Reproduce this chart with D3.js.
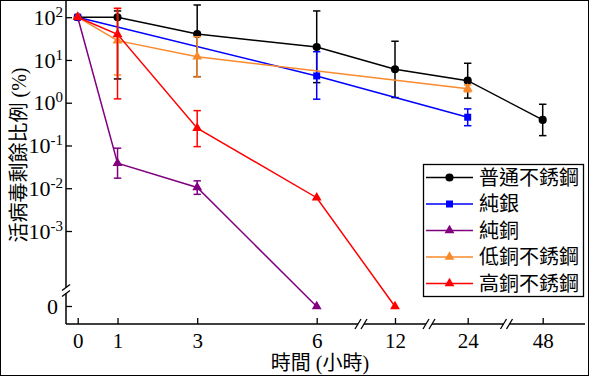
<!DOCTYPE html>
<html>
<head>
<meta charset="utf-8">
<script src="https://cdn.jsdelivr.net/npm/d3@7"></script>
<style>
  body { margin: 0; background: #fff; }
  svg { display: block; }
  text { font-family: "Liberation Serif", "Noto Sans CJK TC", serif; fill: #000; }
</style>
</head>
<body>
<div id="chart"></div>
<script>
// Sample data
const hours = [0, 1, 3, 6, 12, 24, 48];
const seriesNames = ['普通不銹鋼', '純銀', '純銅', '低銅不銹鋼', '高銅不銹鋼'];
const seriesColors = ['#000000', '#0000ff', '#800080', '#f98a2c', '#ff0000'];
const seriesShapes = ['circle', 'square', 'triangle', 'triangle', 'triangle'];

const steelT = [0, 1, 3, 6, 12, 24, 48];
const steelV = [100, 100, 40.5, 20.1, 6.06, 3.28, 0.397];
const steelLo = [null, 3.6, 4.07, 2.95, 1.32, 1.28, 0.17];
const steelHi = [null, 140, 193, 140, 27.4, 8.37, 0.92];

const silverT = [0, 6, 24];
const silverV = [100, 4.23, 0.458];
const silverLo = [null, 1.21, 0.29];
const silverHi = [null, 15.6, 0.716];

const copperT = [0, 1, 3, 6];
const copperV = [100, 0.0386, 0.0104, 0];
const copperLo = [null, 0.0172, 0.0072, null];
const copperHi = [null, 0.0865, 0.0149, null];

const lowCuT = [0, 1, 3, 24];
const lowCuV = [100, 28.3, 11.9, 2.13];
const lowCuLo = [null, 4.46, 4.0, 1.8];
const lowCuHi = [null, 161, 35, 2.6];

const highCuT = [0, 1, 3, 6, 12];
const highCuV = [100, 39.8, 0.254, 0.006, 0];
const highCuLo = [null, 1.23, 0.094, null, null];
const highCuHi = [null, 161, 0.653, null, null];

const yTicks = [1e-3, 1e-2, 1e-1, 1, 10, 100];

const seriesT = [steelT, silverT, copperT, lowCuT, highCuT];
const seriesV = [steelV, silverV, copperV, lowCuV, highCuV];
const seriesLo = [steelLo, silverLo, copperLo, lowCuLo, highCuLo];
const seriesHi = [steelHi, silverHi, copperHi, lowCuHi, highCuHi];

// Chart dimensions
const width = 589;
const height = 376;
const axisX = 66;
const axisY = 324;
const axisRight = 585;
const yZero = 306.5;

const svg = d3.select('#chart').append('svg')
    .attr('width', width)
    .attr('height', height);

// outer frame
svg.append('rect')
    .attr('x', 0.5).attr('y', 0.5)
    .attr('width', width - 1).attr('height', height - 1)
    .attr('fill', '#fff').attr('stroke', '#000');

// x: broken time axis (linear to 6 h, then 12/24/48)
const xScale = d3.scaleLinear()
    .domain([0, 6, 12, 24, 48])
    .range([77.7, 316.7, 395, 467.7, 542.7]);

// y: log part plus a separate zero level under the break
const yScale = d3.scaleLog()
    .domain([1e-3, 1e2])
    .range([231, 17.2]);
const yPos = v => v === 0 ? yZero : yScale(v);

// x-axis
const xAxis = d3.axisBottom(xScale)
    .tickValues(hours)
    .tickSizeInner(-6)
    .tickSizeOuter(0)
    .tickPadding(9)
    .tickFormat(d3.format('d'));
const gx = svg.append('g')
    .attr('transform', `translate(0,${axisY})`)
    .call(xAxis);
gx.select('.domain').remove();
gx.selectAll('line').attr('stroke', '#000').attr('stroke-width', 1.3);
gx.selectAll('text').attr('font-size', 21).attr('font-family', 'Liberation Serif');

// x axis line with breaks
const xBreaks = [361, 429, 506.5];
const xSegs = [axisX].concat(xBreaks.flatMap(b => [b - 3, b + 3])).concat([axisRight]);
for (let i = 0; i < xSegs.length; i += 2) {
  svg.append('line')
      .attr('x1', xSegs[i]).attr('x2', xSegs[i + 1])
      .attr('y1', axisY).attr('y2', axisY)
      .attr('stroke', '#000').attr('stroke-width', 1.5);
}
xBreaks.forEach(b => {
  [-3, 3].forEach(o => {
    svg.append('line')
        .attr('x1', b + o - 3).attr('x2', b + o + 3)
        .attr('y1', axisY + 5).attr('y2', axisY - 5)
        .attr('stroke', '#000').attr('stroke-width', 1.3);
  });
});

// y-axis (log part)
const yAxis = d3.axisLeft(yScale)
    .tickValues(yTicks)
    .tickSizeInner(-6)
    .tickSizeOuter(0)
    .tickPadding(3);
const gy = svg.append('g')
    .attr('transform', `translate(${axisX},0)`)
    .call(yAxis);
gy.select('.domain').remove();
gy.selectAll('line').attr('stroke', '#000').attr('stroke-width', 1.3);
gy.selectAll('text')
    .attr('font-size', 22)
    .attr('font-family', 'Liberation Serif')
    .text('10')
    .append('tspan')
    .attr('dy', -8)
    .attr('font-size', 15)
    .text(d => String(Math.round(Math.log10(d))));

// zero tick under the break
svg.append('line')
    .attr('x1', axisX).attr('x2', axisX + 6)
    .attr('y1', yPos(0)).attr('y2', yPos(0))
    .attr('stroke', '#000').attr('stroke-width', 1.3);
svg.append('text')
    .attr('x', axisX - 8).attr('y', yPos(0))
    .attr('dy', '0.32em')
    .attr('text-anchor', 'end')
    .attr('font-size', 22)
    .text('0');

// y axis line with break
const yBreak = 290.5;
svg.append('line')
    .attr('x1', axisX).attr('x2', axisX)
    .attr('y1', 0).attr('y2', yBreak - 3)
    .attr('stroke', '#000').attr('stroke-width', 1.5);
svg.append('line')
    .attr('x1', axisX).attr('x2', axisX)
    .attr('y1', yBreak + 3).attr('y2', axisY)
    .attr('stroke', '#000').attr('stroke-width', 1.5);
[-3, 3].forEach(o => {
  svg.append('line')
      .attr('x1', axisX - 4).attr('x2', axisX + 4)
      .attr('y1', yBreak + o + 3).attr('y2', yBreak + o - 3)
      .attr('stroke', '#000').attr('stroke-width', 1.3);
});

// axis titles
svg.append('text')
    .attr('x', 320).attr('y', 370)
    .attr('text-anchor', 'middle')
    .attr('font-size', 20)
    .text('時間 (小時)');
svg.append('text')
    .attr('transform', 'translate(26,155) rotate(-90)')
    .attr('text-anchor', 'middle')
    .attr('font-size', 20)
    .text('活病毒剩餘比例 (%)');

// markers
function marker(shape) {
  if (shape === 'circle') return d3.symbol(d3.symbolCircle, 52)();
  if (shape === 'square') return d3.symbol(d3.symbolSquare, 49)();
  return d3.symbol(d3.symbolTriangle, 42)();
}

// series
const line = d3.line()
    .x(d => xScale(d.t))
    .y(d => yPos(d.v));

seriesNames.forEach((name, i) => {
  const color = seriesColors[i];
  const pts = seriesT[i].map((t, j) => ({
    t: t, v: seriesV[i][j], lo: seriesLo[i][j], hi: seriesHi[i][j]
  }));
  const g = svg.append('g');

  g.append('path')
      .datum(pts)
      .attr('d', line)
      .attr('fill', 'none')
      .attr('stroke', color)
      .attr('stroke-width', 1.5);

  const eb = g.selectAll('.err')
      .data(pts.filter(d => d.lo != null))
      .enter().append('g');
  eb.append('line')
      .attr('x1', d => xScale(d.t)).attr('x2', d => xScale(d.t))
      .attr('y1', d => yPos(d.hi)).attr('y2', d => yPos(d.lo))
      .attr('stroke', color).attr('stroke-width', 1.5);
  ['hi', 'lo'].forEach(k => {
    eb.append('line')
        .attr('x1', d => xScale(d.t) - 3.7).attr('x2', d => xScale(d.t) + 3.7)
        .attr('y1', d => yPos(d[k])).attr('y2', d => yPos(d[k]))
        .attr('stroke', color).attr('stroke-width', 1.5);
  });

  g.selectAll('.pt')
      .data(pts)
      .enter().append('path')
      .attr('d', marker(seriesShapes[i]))
      .attr('transform', d => `translate(${xScale(d.t)},${yPos(d.v)})`)
      .attr('fill', color);
});

// legend
const legend = svg.append('g');
legend.append('rect')
    .attr('x', 423.5).attr('y', 164.5)
    .attr('width', 160).attr('height', 132)
    .attr('fill', '#fff').attr('stroke', '#000').attr('stroke-width', 1.3);
seriesNames.forEach((name, i) => {
  const ly = 177.5 + i * 26.5;
  legend.append('line')
      .attr('x1', 426).attr('x2', 473)
      .attr('y1', ly).attr('y2', ly)
      .attr('stroke', seriesColors[i]).attr('stroke-width', 1.5);
  legend.append('path')
      .attr('d', marker(seriesShapes[i]))
      .attr('transform', `translate(449.5,${ly})`)
      .attr('fill', seriesColors[i]);
  legend.append('text')
      .attr('x', 479).attr('y', ly)
      .attr('dy', '0.36em')
      .attr('font-size', 20)
      .text(name);
});
</script>
</body>
</html>
